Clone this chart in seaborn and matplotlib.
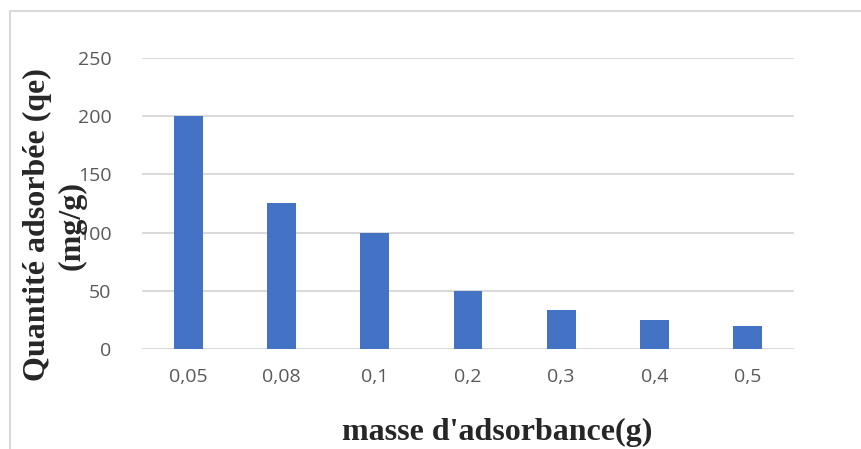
import matplotlib
matplotlib.use("Agg")
import matplotlib.pyplot as plt
import seaborn as sns
import pandas as pd

categories = ["0,05", "0,08", "0,1", "0,2", "0,3", "0,4", "0,5"]
values = [200, 125, 100, 50, 33.3, 25, 20]
yticks = [0, 50, 100, 150, 200, 250]

df = pd.DataFrame({"masse": categories, "qe": values})

sns.set_theme(style="white")
plt.rcParams['font.family'] = ['Open Sans', 'DejaVu Sans']

W, H = 861, 449
fig = plt.figure(figsize=(W / 100, H / 100), dpi=100)
ax = fig.add_axes([142 / W, 1 - 349 / H, (794 - 142) / W, (349 - 58) / H])

sns.barplot(data=df, x="masse", y="qe", color="#4472C4", width=0.31,
            saturation=1, ax=ax, zorder=3, edgecolor="none")

ax.set_ylim(0, 250)
ax.set_xlim(-0.5, len(categories) - 0.5)
ax.set_yticks(yticks)
ax.set_yticklabels([str(t) for t in yticks])
for t in yticks:
    ax.axhline(t, color="#d9d9d9", lw=1.4, zorder=1)
for s in ax.spines.values():
    s.set_visible(False)
ax.tick_params(axis="both", length=0, labelsize=14, colors="#595959")
ax.tick_params(axis="y", pad=22)
ax.tick_params(axis="x", pad=14)
ax.set_xlabel("")
ax.set_ylabel("")

serif = ['Liberation Serif', 'DejaVu Serif']
fig.text(37 / W, 1 - 225 / H, "Quantité adsorbée (qe)", rotation=90,
         ha="center", va="center", fontsize=23, fontweight="bold", family=serif)
fig.text(72 / W, 1 - 225 / H, "(mg/g)", rotation=90,
         ha="center", va="center", fontsize=23, fontweight="bold", family=serif)
fig.text(497 / W, 1 - 432 / H, "masse d'adsorbance(g)",
         ha="center", va="center", fontsize=23, fontweight="bold", family=serif)

# chart border (as in the reference crop)
fig.add_artist(plt.Line2D([10 / W, 10 / W], [0, 1 - 11 / H], color="#d9d9d9",
                          lw=1.5, transform=fig.transFigure))
fig.add_artist(plt.Line2D([10 / W, 1], [1 - 11 / H, 1 - 11 / H], color="#d9d9d9",
                          lw=1.5, transform=fig.transFigure))

fig.savefig("out.png", dpi=100)
